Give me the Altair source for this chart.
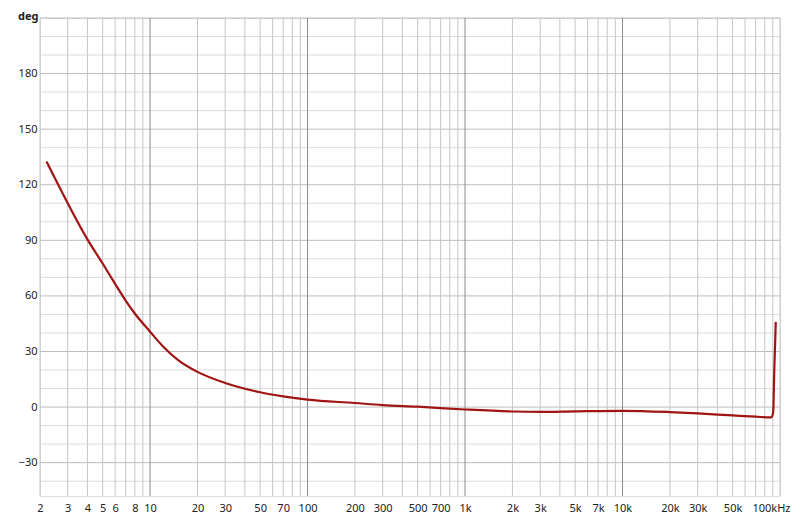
import altair as alt
import pandas as pd

# Phase response curve (frequency in Hz, phase in degrees)
freq = [2.2, 3, 4, 5, 6, 7, 8, 10, 12, 15, 20, 30, 50, 70, 100, 200, 300, 500,
        1000, 2000, 3000, 5000, 10000, 20000, 30000, 50000, 70000, 88000,
        90500, 92000, 94000]
phase = [132.5, 110.0, 90.5, 77.5, 66.5, 57.5, 50.5, 40.7, 33.0, 25.5, 19.0,
         13.0, 8.0, 5.8, 4.0, 2.2, 1.1, 0.2, -1.3, -2.4, -2.6, -2.3, -2.0,
         -2.7, -3.4, -4.5, -5.2, -5.6, -3.0, 20.0, 46.0]

# Axis tick labels
x_label_values = [2, 3, 4, 5, 6, 8, 10, 20, 30, 50, 70, 100, 200, 300, 500, 700,
                  1000, 2000, 3000, 5000, 7000, 10000, 20000, 30000, 50000, 100000]
y_label_values = [-30, 0, 30, 60, 90, 120, 150, 180]

# Grid lines
x_grid = [m * 10 ** e for e in range(0, 5) for m in range(1, 10)
          if 2 <= m * 10 ** e <= 100000] + [100000]
x_decades = [10, 100, 1000, 10000]
y_grid = list(range(-40, 211, 10))

X_DOMAIN = [2, 100000]
Y_DOMAIN = [-48, 210]
FONT = "Noto Sans"

xscale = alt.Scale(type="log", domain=X_DOMAIN, nice=False)
yscale = alt.Scale(domain=Y_DOMAIN, nice=False)

curve = pd.DataFrame({"f": freq, "deg": phase})
xg = pd.DataFrame({"f": x_grid, "major": [v in x_decades for v in x_grid]})
yg = pd.DataFrame({"deg": y_grid, "major": [v % 30 == 0 for v in y_grid]})

label_expr = ("datum.value >= 100000 ? '100kHz' : (datum.value >= 1000 ? "
              "(datum.value / 1000) + 'k' : '' + datum.value)")

x_axis = alt.Axis(values=x_label_values, labelExpr=label_expr, grid=False,
                  ticks=False, domain=False, title=None, labelFontSize=11,
                  labelFont=FONT, labelColor="#222222", labelPadding=6,
                  labelOverlap=False, labelFlush=False,
                  labelOffset={"condition": {"test": "datum.value >= 100000",
                                             "value": -9},
                               "value": 0})
y_axis = alt.Axis(values=y_label_values, grid=False, ticks=False, domain=False,
                  title="deg", titleAngle=0, titleX=-2, titleY=1,
                  titleAlign="right", titleBaseline="alphabetic",
                  titleFontWeight="bold", titleFontSize=11, titleFont=FONT,
                  titleColor="#222222", labelFontSize=11, labelFont=FONT,
                  labelColor="#222222", labelPadding=3)

hgrid = alt.Chart(yg).mark_rule(strokeWidth=1).encode(
    y=alt.Y("deg:Q", scale=yscale, axis=y_axis),
    color=alt.condition("datum.major", alt.value("#bdbdbd"), alt.value("#dcdcdc")),
)
vgrid = alt.Chart(xg).mark_rule(strokeWidth=1).encode(
    x=alt.X("f:Q", scale=xscale, axis=x_axis),
    color=alt.condition("datum.major", alt.value("#8a8a8a"), alt.value("#c6c6c6")),
)
line = alt.Chart(curve).mark_line(color="#a01414", strokeWidth=2.2,
                                  interpolate="monotone").encode(
    x=alt.X("f:Q", scale=xscale, axis=x_axis),
    y=alt.Y("deg:Q", scale=yscale, axis=y_axis),
)

chart = alt.layer(hgrid, vgrid, line).properties(
    width=740, height=478,
    padding={"left": 32, "top": 10, "right": 12, "bottom": 17},
    autosize=alt.AutoSizeParams(type="none"),
).configure_view(stroke="#b5b5b5", strokeWidth=1).configure(background="white")

chart.save("out.html", embed_options={"renderer": "svg", "actions": False})
